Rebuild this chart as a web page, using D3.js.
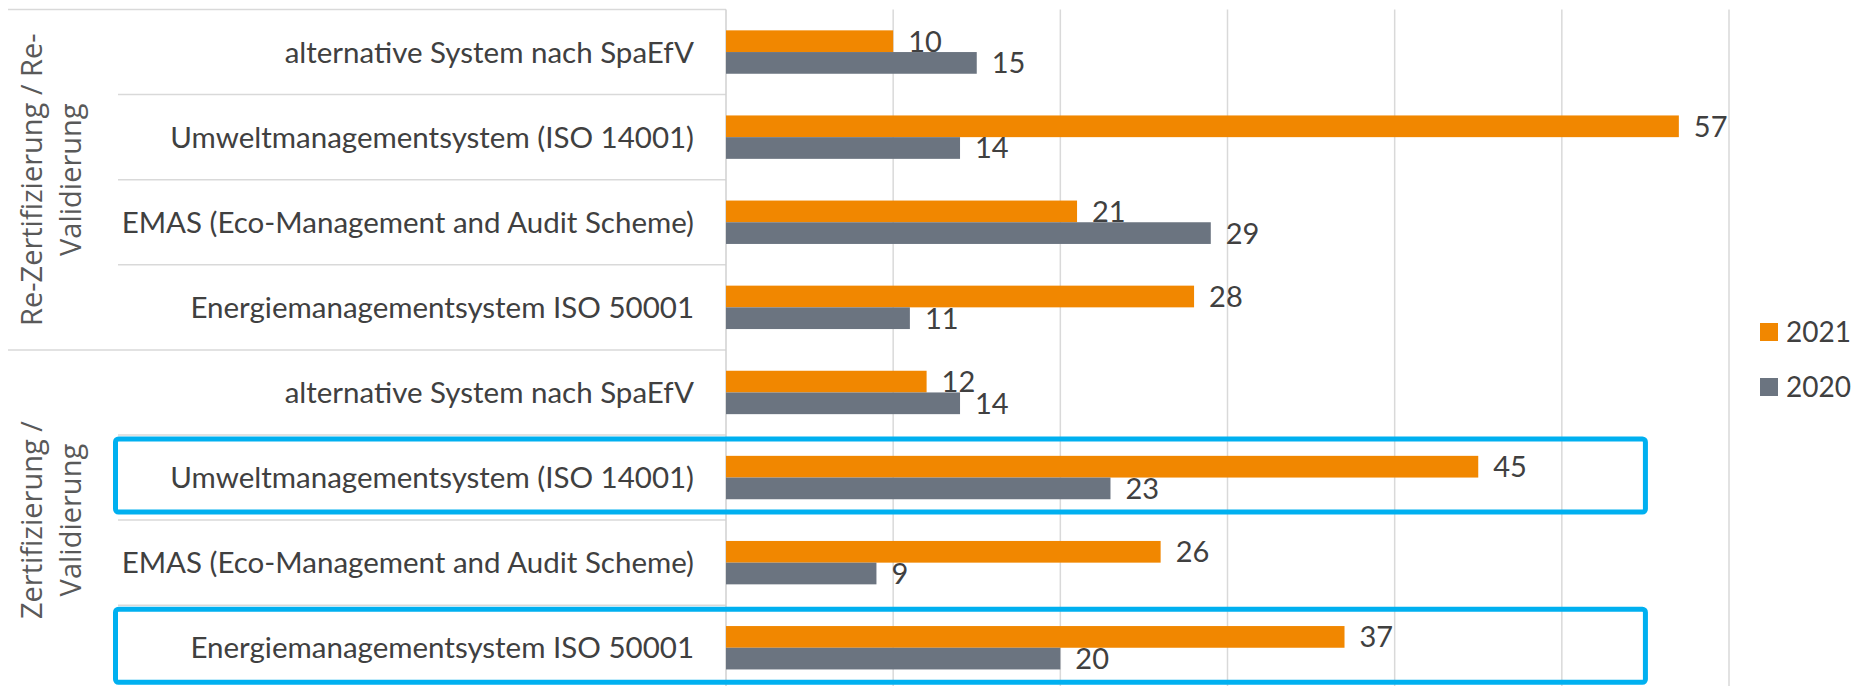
<!DOCTYPE html>
<html>
<head>
<meta charset="utf-8">
<script src="https://cdn.jsdelivr.net/npm/d3@7"></script>
<style>
  body { margin: 0; background: #fff; overflow: hidden; }
  .cat { font-family: Lato, 'Open Sans', sans-serif; font-size: 29.5px; fill: #404040; }
  .val { font-family: Lato, 'Open Sans', sans-serif; font-size: 29px; fill: #404040; }
  .grp { font-family: 'Open Sans', sans-serif; font-size: 29px; fill: #595959; }
  .leg { font-family: Lato, 'Open Sans', sans-serif; font-size: 28px; fill: #404040; }
</style>
</head>
<body>
<script>
// Data (top to bottom, as in the chart)
var categories = [
  'alternative System nach SpaEfV',
  'Umweltmanagementsystem (ISO 14001)',
  'EMAS (Eco-Management and Audit Scheme)',
  'Energiemanagementsystem ISO 50001',
  'alternative System nach SpaEfV',
  'Umweltmanagementsystem (ISO 14001)',
  'EMAS (Eco-Management and Audit Scheme)',
  'Energiemanagementsystem ISO 50001'
];
var groups = [
  {lines: ['Re-Zertifizierung / Re-', 'Validierung'], from: 0, to: 4},
  {lines: ['Zertifizierung /', 'Validierung'], from: 4, to: 8}
];
var series   = ['2021', '2020'];
var values2021 = [10, 57, 21, 28, 12, 45, 26, 37];
var values2020 = [15, 14, 29, 11, 14, 23, 9, 20];
var highlighted = [5, 7];   // rows with the blue frame
var xTicks = [0, 10, 20, 30, 40, 50, 60];

var colors = {'2021': '#f18700', '2020': '#6b7480'};

{
  const width = 1854, height = 686;

  const svg = d3.select('body').append('svg')
      .attr('width', width)
      .attr('height', height);

  const axisX = 726,
        top   = 9.5,
        step  = 85.1;

  const rows = d3.range(categories.length);

  const y = d3.scaleBand()
      .domain(rows)
      .range([top, top + step * rows.length])
      .paddingInner(0.49)
      .paddingOuter(0.245);

  const ySeries = d3.scaleBand()
      .domain(series)
      .range([0, y.bandwidth()]);

  const x = d3.scaleLinear()
      .domain([0, 60])
      .range([axisX, 1729]);

  // gridlines
  svg.append('g')
    .selectAll('line')
    .data(xTicks.slice(1))
    .join('line')
      .attr('x1', d => x(d)).attr('x2', d => x(d))
      .attr('y1', top).attr('y2', height)
      .attr('stroke', '#d9d9d9')
      .attr('stroke-width', 1.5);

  // label table lines
  const rowTop = i => top + step * i;
  const table = svg.append('g')
      .attr('stroke', '#d9d9d9')
      .attr('stroke-width', 1.5);
  rows.concat([rows.length]).forEach(function(i) {
    const isGroupEdge = groups.some(g => g.from === i || g.to === i);
    table.append('line')
      .attr('x1', isGroupEdge ? 8 : 118)
      .attr('x2', axisX)
      .attr('y1', rowTop(i)).attr('y2', rowTop(i));
  });
  table.append('line')
      .attr('x1', axisX).attr('x2', axisX)
      .attr('y1', top).attr('y2', height)
      .attr('stroke', '#d0d0d0');

  // bars
  const data = rows.map(i => ({i: i, '2021': values2021[i], '2020': values2020[i]}));

  const rowG = svg.append('g')
    .selectAll('g')
    .data(data)
    .join('g')
      .attr('transform', d => 'translate(0,' + y(d.i) + ')');

  rowG.selectAll('rect')
    .data(d => series.map(s => ({key: s, value: d[s]})))
    .join('rect')
      .attr('x', x(0))
      .attr('y', d => ySeries(d.key))
      .attr('width', d => x(d.value) - x(0))
      .attr('height', ySeries.bandwidth())
      .attr('fill', d => colors[d.key]);

  rowG.selectAll('text.val')
    .data(d => series.map(s => ({key: s, value: d[s]})))
    .join('text')
      .attr('class', 'val')
      .attr('x', d => x(d.value) + 15)
      .attr('y', d => ySeries(d.key) + ySeries.bandwidth() / 2)
      .attr('dy', '0.36em')
      .text(d => d.value);

  // category labels
  svg.append('g')
    .selectAll('text')
    .data(rows)
    .join('text')
      .attr('class', 'cat')
      .attr('x', 694)
      .attr('y', i => rowTop(i) + step / 2)
      .attr('dy', '0.36em')
      .attr('text-anchor', 'end')
      .text(i => categories[i]);

  // group labels (rotated, two lines)
  groups.forEach(function(g) {
    const cy = (rowTop(g.from) + rowTop(g.to)) / 2;
    const t = svg.append('text')
        .attr('class', 'grp')
        .attr('text-anchor', 'middle')
        .attr('transform', 'translate(42,' + cy + ') rotate(-90)');
    g.lines.forEach(function(line, k) {
      t.append('tspan')
        .attr('x', 0)
        .attr('dy', k === 0 ? 0 : 39)
        .text(line);
    });
  });

  // highlight frames
  svg.append('g')
    .selectAll('rect')
    .data(highlighted)
    .join('rect')
      .attr('x', 115.5)
      .attr('y', i => rowTop(i) + 4)
      .attr('width', x(55) - 115.5)
      .attr('height', step - 12)
      .attr('rx', 3)
      .attr('fill', 'none')
      .attr('stroke', '#00b0f0')
      .attr('stroke-width', 5);

  // legend
  const legend = svg.append('g')
    .selectAll('g')
    .data(series)
    .join('g')
      .attr('transform', (d, k) => 'translate(1760,' + (332 + k * 55) + ')');
  legend.append('rect')
      .attr('x', 0).attr('y', -9)
      .attr('width', 18).attr('height', 18)
      .attr('fill', d => colors[d]);
  legend.append('text')
      .attr('class', 'leg')
      .attr('x', 26)
      .attr('dy', '0.36em')
      .text(d => d);
}
</script>
</body>
</html>
